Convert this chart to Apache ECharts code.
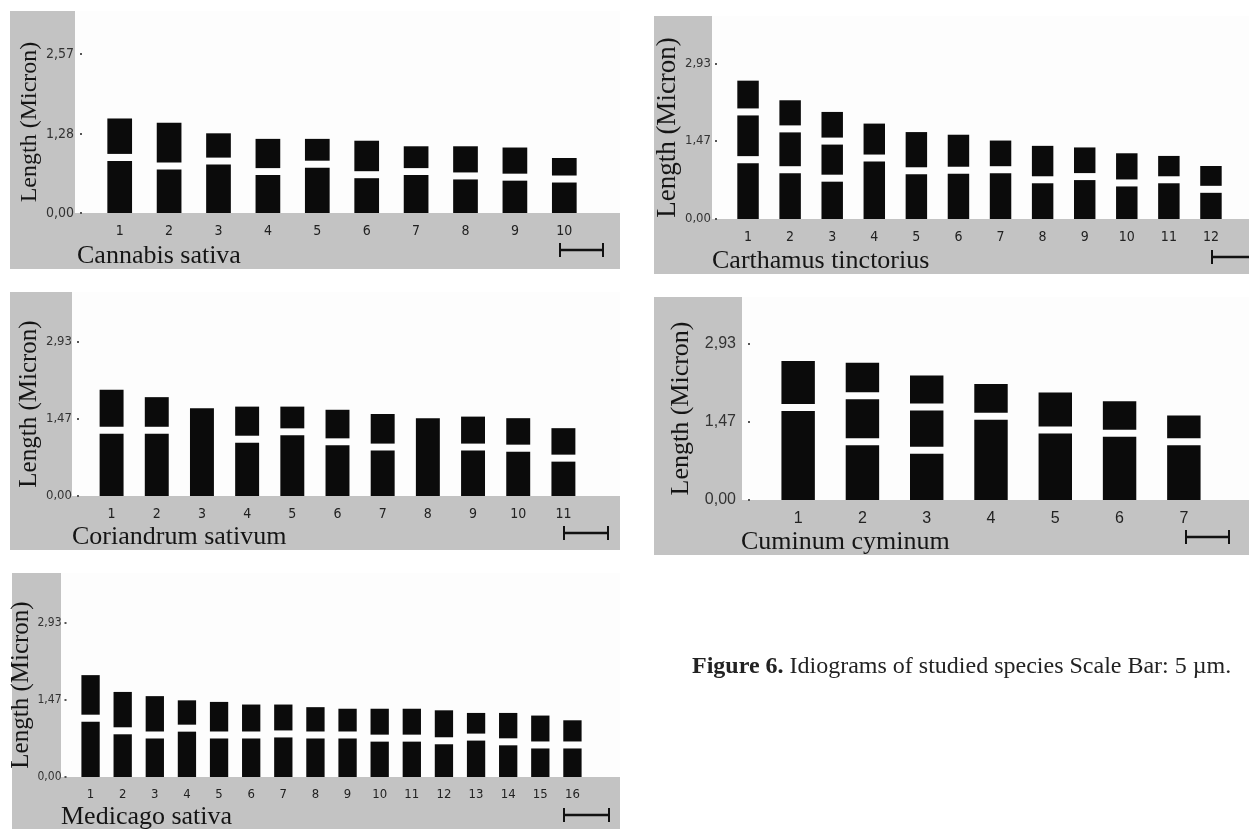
<!DOCTYPE html>
<html lang="en">
<head>
  <meta charset="UTF-8">
  <title>Idiograms of studied species</title>
  <style>
    html, body { margin: 0; padding: 0; background: #fff; }
    #chart { width: 1249px; height: 829px; }
  </style>
</head>
<body>
  <div id="chart"></div>
  <script src="https://cdn.jsdelivr.net/npm/echarts@6/dist/echarts.min.js"></script>
  <script>
    // chromosome lengths (micron) and constriction heights
    var cannabisTotal = [1.53, 1.46, 1.29, 1.20, 1.20, 1.17, 1.08, 1.08, 1.06, 0.89]
    var cannabisCentromere = [0.90, 0.76, 0.84, 0.67, 0.79, 0.62, 0.67, 0.60, 0.58, 0.55]

    var carthamusTotal = [2.61, 2.24, 2.02, 1.80, 1.64, 1.59, 1.48, 1.38, 1.35, 1.24, 1.19, 1.00]
    var carthamusCentromere = [1.12, 0.93, 0.77, 1.15, 0.91, 0.92, 0.93, 0.74, 0.80, 0.68, 0.74, 0.56]
    var carthamusSecondary = [2.02, 1.70, 1.47, null, null, null, null, null, null, null, null, null]

    var coriandrumTotal = [2.02, 1.88, 1.67, 1.70, 1.70, 1.64, 1.56, 1.48, 1.51, 1.48, 1.29]
    var coriandrumCentromere = [1.25, 1.25, null, 1.08, 1.22, 1.03, 0.93, null, 0.93, 0.91, 0.72]

    var cuminumTotal = [2.60, 2.57, 2.33, 2.17, 2.01, 1.85, 1.58]
    var cuminumCentromere = [1.73, 1.09, 0.93, 1.57, 1.31, 1.25, 1.09]
    var cuminumSecondary = [null, 1.95, 1.74, null, null, null, null]

    var medicagoTotal = [1.94, 1.62, 1.54, 1.46, 1.43, 1.38, 1.38, 1.33, 1.30, 1.30, 1.30, 1.27, 1.22, 1.22, 1.17, 1.08]
    var medicagoCentromere = [1.12, 0.88, 0.80, 0.93, 0.80, 0.80, 0.82, 0.80, 0.80, 0.74, 0.74, 0.69, 0.76, 0.67, 0.61, 0.61]

    var cannabisTicks = [0, 1.28, 2.57]
    var otherTicks = [0, 1.47, 2.93]

    var SERIF = "'Liberation Serif', 'Times New Roman', 'DejaVu Serif', serif"
    var NARROW = "'Liberation Sans Narrow', 'Arial Narrow', 'DejaVu Sans Condensed', 'Liberation Sans', sans-serif"
    var SANS = "'Liberation Sans', Arial, sans-serif"
    var GRAY = '#c3c3c3'
    var INK = '#0b0b0b'
    var GAP = 7 // px of white at each constriction

    var panels = [
      {
        name: 'Cannabis sativa', total: cannabisTotal, centromere: cannabisCentromere, secondary: null,
        ticks: cannabisTicks, max: 3.27, barRatio: 0.5,
        grid: { left: 95, top: 11, width: 494, height: 202 },
        box: [10, 11, 620, 269], plotLeft: 75,
        yOffset: 13, labelMargin: 8, labelFont: NARROW, labelSize: 14, xLabelSize: 14,
        nameSize: 24, nameGap: 40, title: [77, 256], scale: [560, 603, 250]
      },
      {
        name: 'Carthamus tinctorius', total: carthamusTotal, centromere: carthamusCentromere, secondary: carthamusSecondary,
        ticks: otherTicks, max: 3.83, barRatio: 0.51,
        grid: { left: 727, top: 16, width: 505, height: 203 },
        box: [654, 16, 1249, 274], plotLeft: 712,
        yOffset: 10, labelMargin: 6, labelFont: NARROW, labelSize: 13, xLabelSize: 14,
        nameSize: 27, nameGap: 32, title: [712, 261], scale: [1212, 1262, 257]
      },
      {
        name: 'Coriandrum sativum', total: coriandrumTotal, centromere: coriandrumCentromere, secondary: null,
        ticks: otherTicks, max: 3.88, barRatio: 0.53,
        grid: { left: 89, top: 292, width: 497, height: 204 },
        box: [10, 292, 620, 550], plotLeft: 72,
        yOffset: 10, labelMargin: 7, labelFont: NARROW, labelSize: 13, xLabelSize: 14,
        nameSize: 25, nameGap: 34, title: [72, 537], scale: [564, 608, 533]
      },
      {
        name: 'Cuminum cyminum', total: cuminumTotal, centromere: cuminumCentromere, secondary: cuminumSecondary,
        ticks: otherTicks, max: 3.80, barRatio: 0.52,
        grid: { left: 766, top: 297, width: 450, height: 203 },
        box: [654, 297, 1249, 555], plotLeft: 742,
        yOffset: 16, labelMargin: 14, labelFont: SANS, labelSize: 16, xLabelSize: 16,
        nameSize: 26, nameGap: 56, title: [741, 542], scale: [1186, 1229, 537]
      },
      {
        name: 'Medicago sativa', total: medicagoTotal, centromere: medicagoCentromere, secondary: null,
        ticks: otherTicks, max: 3.885, barRatio: 0.57,
        grid: { left: 74.5, top: 573, width: 514, height: 204 },
        box: [12, 573, 620, 829], plotLeft: 61,
        yOffset: 8, labelMargin: 5, labelFont: NARROW, labelSize: 12, xLabelSize: 13,
        nameSize: 25, nameGap: 28, title: [61, 817], scale: [564, 609, 815]
      }
    ]

    function idiogram(ratio) {
      return function (params, api) {
        var x = api.value(0)
        var w = api.size([1, 0])[0] * ratio
        var base = api.coord([x, 0])
        var top = api.coord([x, api.value(1)])[1]
        var cuts = []
        var c1 = api.value(2), c2 = api.value(3)
        if (isFinite(c1)) cuts.push(api.coord([x, c1])[1])
        if (isFinite(c2)) cuts.push(api.coord([x, c2])[1])
        cuts.sort(function (a, b) { return a - b })
        var edges = [top]
        cuts.forEach(function (c) { edges.push(c - GAP / 2, c + GAP / 2) })
        edges.push(base[1])
        var children = []
        for (var k = 0; k < edges.length; k += 2) {
          children.push({
            type: 'rect',
            shape: { x: base[0] - w / 2, y: edges[k], width: w, height: edges[k + 1] - edges[k] },
            style: { fill: INK }
          })
        }
        return { type: 'group', children: children }
      }
    }

    var grids = [], xAxes = [], yAxes = [], series = [], graphics = []

    panels.forEach(function (p, i) {
      var cats = p.total.map(function (v, j) { return String(j + 1) })
      var data = p.total.map(function (v, j) {
        var sec = p.secondary ? p.secondary[j] : null
        return [j, v, p.centromere[j] == null ? '-' : p.centromere[j], sec == null ? '-' : sec]
      })
      grids.push(p.grid)
      xAxes.push({
        type: 'category', gridIndex: i, data: cats,
        axisLine: { show: false }, axisTick: { show: false },
        axisLabel: { margin: 11, color: '#222', fontFamily: p.labelFont, fontSize: p.xLabelSize }
      })
      yAxes.push({
        type: 'value', gridIndex: i, min: 0, max: p.max, offset: p.yOffset,
        name: 'Length (Micron)', nameLocation: 'middle', nameGap: p.nameGap,
        nameTextStyle: { fontFamily: SERIF, fontSize: p.nameSize, color: '#151515', padding: [0, 20, 0, 0] },
        axisLine: { show: false },
        axisTick: { show: true, length: 2, customValues: p.ticks, lineStyle: { color: '#555', width: 2 } },
        axisLabel: {
          customValues: p.ticks, margin: p.labelMargin, color: '#333',
          fontFamily: p.labelFont, fontSize: p.labelSize,
          formatter: function (v) { return v.toFixed(2).replace('.', ',') }
        },
        splitLine: { show: false }
      })
      series.push({
        type: 'custom', name: p.name, xAxisIndex: i, yAxisIndex: i,
        renderItem: idiogram(p.barRatio), encode: { x: 0, y: 1 }, data: data
      })

      var b = p.box
      graphics.push({
        type: 'rect', z: -10, shape: { x: b[0], y: b[1], width: b[2] - b[0], height: b[3] - b[1] },
        style: { fill: GRAY }
      })
      graphics.push({
        type: 'rect', z: -9,
        shape: { x: p.plotLeft, y: b[1], width: b[2] - p.plotLeft, height: p.grid.top + p.grid.height - b[1] },
        style: { fill: '#fdfdfd' }
      })
      graphics.push({
        type: 'text', z: 10, x: p.title[0], y: p.title[1],
        style: { text: p.name, fontFamily: SERIF, fontSize: 26, fill: '#151515', verticalAlign: 'middle' }
      })
      var s = p.scale
      graphics.push({
        type: 'group', z: 10, children: [
          { type: 'line', shape: { x1: s[0], y1: s[2], x2: s[1], y2: s[2] }, style: { stroke: '#111', lineWidth: 2.5 } },
          { type: 'line', shape: { x1: s[0], y1: s[2] - 7, x2: s[0], y2: s[2] + 7 }, style: { stroke: '#111', lineWidth: 2 } },
          { type: 'line', shape: { x1: s[1], y1: s[2] - 7, x2: s[1], y2: s[2] + 7 }, style: { stroke: '#111', lineWidth: 2 } }
        ]
      })
    })

    graphics.push({
      type: 'text', z: 10, x: 692, y: 667,
      style: {
        text: '{b|Figure 6.} Idiograms of studied species Scale Bar: 5 \u00b5m.',
        fontFamily: SERIF, fontSize: 24, fill: '#222', verticalAlign: 'middle',
        rich: { b: { fontFamily: SERIF, fontSize: 24, fontWeight: 'bold', fill: '#222' } }
      }
    })

    var option = {
      backgroundColor: '#fff',
      animation: false,
      grid: grids,
      xAxis: xAxes,
      yAxis: yAxes,
      series: series,
      graphic: { elements: graphics }
    }

    var chart = echarts.init(document.getElementById('chart'))
    chart.setOption(option)
  </script>
</body>
</html>
